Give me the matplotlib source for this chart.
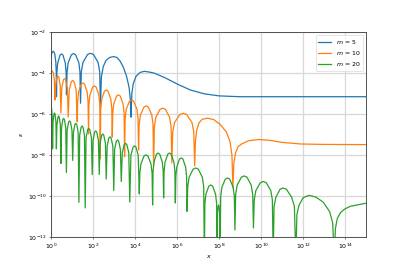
import matplotlib
matplotlib.use('Agg')
import matplotlib.pyplot as plt
from matplotlib.ticker import NullLocator
import numpy as np

# values, as log10(x) and log10(eps)
m_values = [5, 10, 20]

blue_logx = [0.0, 0.05, 0.11, 0.18, 0.235, 0.255, 0.267,
             0.286, 0.324, 0.434, 0.505, 0.576, 0.686, 0.724, 0.743,
             0.770, 0.823, 0.976, 1.077, 1.177, 1.330, 1.383, 1.41,
             1.448, 1.524, 1.743, 1.885, 2.028, 2.246, 2.322, 2.36,
             2.40, 2.49, 2.62, 2.80, 3.00, 3.15, 3.30, 3.45, 3.60, 3.72, 3.78, 3.81,
             3.85, 3.92, 4.05, 4.25, 4.45, 4.70, 4.92, 5.44, 6.01, 6.63, 7.30, 8.01, 9.0, 15.0]
blue_logy = [-3.22, -3.0, -2.93, -3.03, -3.45, -3.95, -5.15,
             -3.96, -3.51, -3.12, -3.06, -3.12, -3.51, -3.96, -5.06,
             -3.94, -3.49, -3.10, -3.04, -3.10, -3.49, -3.94, -5.47,
             -3.93, -3.48, -3.09, -3.03, -3.09, -3.48, -3.93, -5.71,
             -4.2, -3.68, -3.38, -3.23, -3.19, -3.24, -3.42, -3.72, -4.15, -4.7, -5.3, -6.15,
             -5.0, -4.5, -4.15, -3.96, -3.91, -3.95, -4.0, -4.23, -4.53, -4.82, -5.01, -5.11, -5.15, -5.15]

orange_logx = [0.0, 0.06, 0.12, 0.165, 0.19,
               0.224, 0.290, 0.333, 0.376, 0.442, 0.476,
               0.518, 0.598, 0.650, 0.702, 0.782, 0.824,
               0.875, 0.974, 1.038, 1.102, 1.201, 1.252,
               1.274, 1.317, 1.440, 1.521, 1.602, 1.725, 1.768, 1.790,
               1.812, 1.857, 1.985, 2.069, 2.153, 2.281, 2.326, 2.348,
               2.371, 2.417, 2.548, 2.634, 2.719, 2.850, 2.896, 2.919,
               2.942, 2.989, 3.124, 3.212, 3.300, 3.435, 3.482, 3.505,
               3.532, 3.585, 3.738, 3.838, 3.938, 4.091, 4.144, 4.171,
               4.200, 4.257, 4.421, 4.529, 4.636, 4.800, 4.857, 4.886,
               4.921, 4.990, 5.189, 5.319, 5.449, 5.648, 5.717, 5.752,
               5.795, 5.882, 6.132, 6.295, 6.458, 6.708, 6.795, 6.838,
               6.87, 6.93, 7.05, 7.20, 7.45, 7.75, 8.05, 8.35, 8.52, 8.61, 8.657,
               8.70, 8.78, 8.90, 9.05, 9.40, 9.90, 10.40, 11.0, 11.9, 13.0, 15.0]
orange_logy = [-3.93, -3.89, -4.0, -4.35, -5.31,
               -4.585, -4.195, -4.135, -4.195, -4.585, -5.94,
               -4.71, -4.32, -4.26, -4.32, -4.71, -6.14,
               -4.805, -4.415, -4.355, -4.415, -4.805, -6.38,
               -5.38, -4.93, -4.54, -4.48, -4.54, -4.93, -5.38, -6.97,
               -5.52, -5.07, -4.68, -4.62, -4.68, -5.07, -5.52, -8.19,
               -5.72, -5.27, -4.88, -4.82, -4.88, -5.27, -5.72, -7.12,
               -5.96, -5.51, -5.12, -5.06, -5.12, -5.51, -5.96, -8.09,
               -6.21, -5.76, -5.37, -5.31, -5.37, -5.76, -6.21, -7.75,
               -6.50, -6.05, -5.66, -5.60, -5.66, -6.05, -6.50, -8.53,
               -6.61, -6.16, -5.77, -5.71, -5.77, -6.16, -6.61, -8.38,
               -6.86, -6.41, -6.02, -5.96, -6.02, -6.41, -6.86, -8.53,
               -7.4, -6.8, -6.42, -6.25, -6.2, -6.27, -6.5, -6.88, -7.35, -8.0, -9.61,
               -8.4, -7.9, -7.6, -7.47, -7.3, -7.24, -7.28, -7.38, -7.46, -7.48, -7.49]

green_logx = [0.0, 0.035, 0.065, 0.081,
              0.103, 0.144, 0.172, 0.199, 0.240, 0.262,
              0.288, 0.337, 0.369, 0.401, 0.450, 0.476,
              0.507, 0.568, 0.607, 0.646, 0.707, 0.738,
              0.774, 0.843, 0.888, 0.933, 1.002, 1.038,
              1.073, 1.141, 1.186, 1.230, 1.298, 1.333,
              1.369, 1.438, 1.483, 1.528, 1.597, 1.633,
              1.673, 1.750, 1.800, 1.850, 1.927, 1.967,
              2.007, 2.084, 2.134, 2.183, 2.260, 2.300,
              2.340, 2.417, 2.467, 2.516, 2.593, 2.633,
              2.676, 2.758, 2.812, 2.865, 2.947, 2.990,
              3.033, 3.115, 3.169, 3.223, 3.305, 3.348,
              3.397, 3.489, 3.550, 3.611, 3.704, 3.752,
              3.806, 3.911, 3.979, 4.046, 4.151, 4.205,
              4.230, 4.281, 4.427, 4.522, 4.616, 4.762, 4.813, 4.838,
              4.859, 4.901, 5.021, 5.100, 5.179, 5.299, 5.341, 5.362,
              5.384, 5.429, 5.557, 5.641, 5.724, 5.852, 5.897, 5.919,
              5.941, 5.986, 6.114, 6.198, 6.281, 6.409, 6.454, 6.476,
              6.509, 6.575, 6.764, 6.888, 7.012, 7.201, 7.267, 7.300,
              7.324, 7.373, 7.512, 7.603, 7.693, 7.832, 7.881, 7.905,
              7.922, 7.955, 7.977, 7.998, 8.031, 8.048,
              8.076, 8.133, 8.294, 8.400, 8.506, 8.668, 8.724, 8.752,
              8.787, 8.858, 9.060, 9.193, 9.325, 9.527, 9.598, 9.633,
              9.671, 9.746, 9.961, 10.102, 10.243, 10.458, 10.533, 10.571,
              10.614, 10.700, 10.90, 11.03, 11.20, 11.45, 11.58, 11.648,
              11.70, 11.80, 12.00, 12.27, 12.60, 12.95, 13.25, 13.40, 13.476,
              13.53, 13.62, 13.78, 14.00, 14.25, 14.60, 15.0]
green_logy = [-5.78, -5.74, -6.2, -7.70,
              -6.39, -6.00, -5.94, -6.00, -6.39, -7.70,
              -6.54, -6.15, -6.09, -6.15, -6.54, -8.41,
              -6.66, -6.27, -6.21, -6.27, -6.66, -8.85,
              -6.78, -6.39, -6.33, -6.39, -6.78, -8.26,
              -6.90, -6.51, -6.45, -6.51, -6.90, -10.31,
              -7.03, -6.64, -6.58, -6.64, -7.03, -10.58,
              -7.15, -6.76, -6.70, -6.76, -7.15, -8.95,
              -7.27, -6.88, -6.82, -6.88, -7.27, -8.95,
              -7.42, -7.03, -6.97, -7.03, -7.42, -9.17,
              -7.56, -7.17, -7.11, -7.17, -7.56, -9.73,
              -7.71, -7.32, -7.26, -7.32, -7.71, -9.29,
              -7.88, -7.49, -7.43, -7.49, -7.88, -10.29,
              -8.00, -7.61, -7.55, -7.61, -8.00, -9.90,
              -8.89, -8.44, -8.05, -7.99, -8.05, -8.44, -8.89, -10.44,
              -8.80, -8.35, -7.96, -7.90, -7.96, -8.35, -8.80, -10.09,
              -8.80, -8.35, -7.96, -7.90, -7.96, -8.35, -8.80, -10.34,
              -9.04, -8.59, -8.20, -8.14, -8.20, -8.59, -9.04, -10.75,
              -9.53, -9.08, -8.69, -8.63, -8.69, -9.08, -9.53, -13.0,
              -10.36, -9.91, -9.52, -9.46, -9.52, -9.91, -10.36, -12.5,
              -10.89, -10.50, -10.44, -10.50, -10.89, -13.0,
              -10.02, -9.57, -9.18, -9.12, -9.18, -9.57, -10.02, -11.66,
              -9.92, -9.47, -9.08, -9.02, -9.08, -9.47, -9.92, -11.56,
              -10.19, -9.74, -9.35, -9.29, -9.35, -9.74, -10.19, -13.0,
              -10.51, -10.06, -9.67, -9.61, -9.67, -10.06, -10.51, -13.0,
              -10.9, -10.45, -10.08, -9.97, -10.05, -10.3, -10.75, -11.3, -13.0,
              -11.6, -11.1, -10.8, -10.62, -10.5, -10.43, -10.35]

xticks = [1e0, 1e2, 1e4, 1e6, 1e8, 1e10, 1e12, 1e14]
yticks = [1e-12, 1e-10, 1e-8, 1e-6, 1e-4, 1e-2]

DPI = 407 / 9
fig, ax = plt.subplots(figsize=(9, 6), dpi=DPI)
fig.subplots_adjust(left=0.125, right=0.9, top=0.88, bottom=0.1255)

series = [(blue_logx, blue_logy), (orange_logx, orange_logy), (green_logx, green_logy)]
for (lx, ly), m in zip(series, m_values):
    ax.plot(10.0 ** np.array(lx), 10.0 ** np.array(ly), lw=2.0, label=f'$m$ = {m}')

ax.set_xscale('log')
ax.set_yscale('log')
ax.set_xlim(1, 1e15)
ax.set_ylim(1e-12, 1e-2)
ax.set_xticks(xticks)
ax.set_yticks(yticks)
ax.xaxis.set_minor_locator(NullLocator())
ax.yaxis.set_minor_locator(NullLocator())
ax.grid(True, color='#d8d8d8', lw=2.0)
for sp in ax.spines.values():
    sp.set_linewidth(1.4)
    sp.set_color('#444444')

ax.set_xlabel('$x$')
ax.set_ylabel(r'$\varepsilon$')
ax.legend(loc='upper right')

fig.savefig('out.png', dpi=DPI)
